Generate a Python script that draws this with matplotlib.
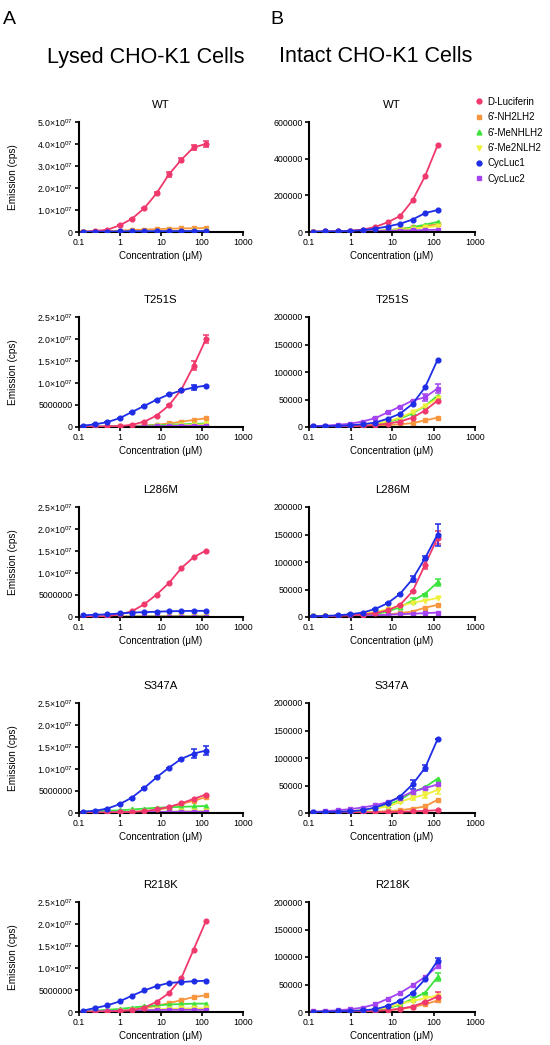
"""
Emission vs concentration in lysed / intact CHO-K1 cells
"""

import matplotlib
matplotlib.use("Agg")
import matplotlib.pyplot as plt
from matplotlib.lines import Line2D

plt.rcParams['font.family'] = ['Liberation Sans', 'DejaVu Sans']
plt.rcParams['mathtext.fontset'] = 'custom'
plt.rcParams['mathtext.rm'] = 'Liberation Sans'

# ===============================
# DATA
# ===============================

CONC = [0.122, 0.244, 0.488, 0.977, 1.95, 3.91, 7.81, 15.6, 31.25, 62.5, 125]
SUBSTRATES = ["D-Luciferin", "6'-NH2LH2", "6'-MeNHLH2", "6'-Me2NLH2", "CycLuc1", "CycLuc2"]
MUTANTS = ["WT", "T251S", "L286M", "S347A", "R218K"]

# lysed cells, values in units of 1e6 cps
LYSED_WT = {
    "D-Luciferin": [0.15, 0.5, 1.0, 3.0, 6.0, 10.8, 17.6, 26.2, 32.8, 38.5, 40.0],
    "6'-NH2LH2":   [0.1, 0.2, 0.4, 0.6, 0.9, 1.1, 1.3, 1.5, 1.6, 1.7, 1.8],
    "6'-MeNHLH2":  [0.05, 0.08, 0.1, 0.15, 0.2, 0.25, 0.3, 0.35, 0.4, 0.45, 0.5],
    "6'-Me2NLH2":  [0.05, 0.06, 0.08, 0.1, 0.12, 0.15, 0.18, 0.2, 0.22, 0.25, 0.3],
    "CycLuc1":     [0.1, 0.15, 0.2, 0.25, 0.3, 0.3, 0.35, 0.35, 0.4, 0.4, 0.4],
    "CycLuc2":     [0.05, 0.1, 0.1, 0.15, 0.15, 0.2, 0.2, 0.2, 0.2, 0.2, 0.2],
}
LYSED_T251S = {
    "D-Luciferin": [0.05, 0.08, 0.12, 0.2, 0.5, 1.2, 2.6, 4.9, 8.5, 13.9, 20.0],
    "6'-NH2LH2":   [0.05, 0.08, 0.1, 0.15, 0.25, 0.35, 0.5, 0.8, 1.2, 1.6, 2.0],
    "6'-MeNHLH2":  [0.05, 0.08, 0.1, 0.15, 0.2, 0.3, 0.4, 0.5, 0.6, 0.7, 0.8],
    "6'-Me2NLH2":  [0.02, 0.03, 0.05, 0.07, 0.1, 0.15, 0.2, 0.3, 0.4, 0.5, 0.6],
    "CycLuc1":     [0.3, 0.6, 1.1, 2.0, 3.4, 4.8, 6.2, 7.4, 8.3, 9.0, 9.4],
    "CycLuc2":     [0.05, 0.06, 0.08, 0.1, 0.12, 0.15, 0.2, 0.25, 0.3, 0.3, 0.3],
}
LYSED_L286M = {
    "D-Luciferin": [0.05, 0.1, 0.2, 0.6, 1.3, 2.9, 5.1, 7.7, 11.1, 13.6, 15.1],
    "6'-NH2LH2":   [0.03, 0.05, 0.07, 0.1, 0.12, 0.15, 0.18, 0.2, 0.22, 0.25, 0.3],
    "6'-MeNHLH2":  [0.02, 0.03, 0.05, 0.06, 0.08, 0.1, 0.12, 0.14, 0.16, 0.18, 0.2],
    "6'-Me2NLH2":  [0.02, 0.02, 0.03, 0.04, 0.05, 0.06, 0.08, 0.1, 0.12, 0.13, 0.15],
    "CycLuc1":     [0.4, 0.5, 0.6, 0.8, 1.0, 1.1, 1.2, 1.3, 1.35, 1.4, 1.4],
    "CycLuc2":     [0.02, 0.03, 0.04, 0.05, 0.06, 0.07, 0.08, 0.09, 0.1, 0.1, 0.1],
}
LYSED_S347A = {
    "D-Luciferin": [0.05, 0.07, 0.1, 0.15, 0.25, 0.4, 0.8, 1.4, 2.2, 3.2, 4.2],
    "6'-NH2LH2":   [0.05, 0.07, 0.1, 0.15, 0.25, 0.4, 0.7, 1.2, 2.0, 2.8, 3.6],
    "6'-MeNHLH2":  [0.3, 0.4, 0.5, 0.6, 0.8, 1.0, 1.2, 1.3, 1.4, 1.5, 1.6],
    "6'-Me2NLH2":  [0.05, 0.06, 0.08, 0.1, 0.15, 0.2, 0.25, 0.3, 0.35, 0.4, 0.45],
    "CycLuc1":     [0.3, 0.5, 1.0, 2.0, 3.5, 5.7, 8.1, 10.3, 12.3, 13.5, 14.2],
    "CycLuc2":     [0.1, 0.12, 0.15, 0.18, 0.2, 0.22, 0.25, 0.27, 0.3, 0.3, 0.3],
}
LYSED_R218K = {
    "D-Luciferin": [0.02, 0.05, 0.1, 0.2, 0.4, 1.0, 2.3, 4.3, 7.7, 14.2, 20.7],
    "6'-NH2LH2":   [0.1, 0.15, 0.2, 0.3, 0.5, 0.9, 1.4, 2.0, 2.7, 3.4, 3.8],
    "6'-MeNHLH2":  [0.2, 0.3, 0.5, 0.7, 1.0, 1.3, 1.5, 1.7, 1.8, 1.9, 1.9],
    "6'-Me2NLH2":  [0.1, 0.15, 0.2, 0.3, 0.4, 0.5, 0.6, 0.7, 0.8, 0.8, 0.8],
    "CycLuc1":     [0.3, 0.9, 1.5, 2.4, 3.7, 4.9, 5.9, 6.6, 6.8, 7.0, 7.1],
    "CycLuc2":     [0.1, 0.15, 0.2, 0.3, 0.35, 0.4, 0.45, 0.5, 0.5, 0.5, 0.5],
}

# intact cells, values in cps
INTACT_WT = {
    "D-Luciferin": [2000, 3000, 4500, 7000, 13000, 27000, 53000, 87000, 172000, 305000, 472000],
    "6'-NH2LH2":   [500, 800, 1200, 2000, 3500, 6000, 10000, 16000, 25000, 34000, 42000],
    "6'-MeNHLH2":  [500, 800, 1200, 2000, 3000, 5000, 9000, 15000, 26000, 40000, 55000],
    "6'-Me2NLH2":  [500, 700, 1000, 1500, 2500, 4000, 7000, 12000, 18000, 25000, 32000],
    "CycLuc1":     [2000, 3000, 4000, 6000, 10000, 18000, 30000, 45000, 68000, 103000, 120000],
    "CycLuc2":     [1000, 1500, 2000, 3000, 4000, 5000, 6000, 8000, 9000, 11000, 12000],
}
INTACT_T251S = {
    "D-Luciferin": [300, 500, 800, 1200, 2000, 3500, 6000, 10000, 17000, 30000, 48000],
    "6'-NH2LH2":   [200, 300, 500, 800, 1200, 2000, 3500, 5000, 7000, 12000, 17000],
    "6'-MeNHLH2":  [500, 800, 1200, 2000, 3000, 5000, 9000, 15000, 25000, 38000, 57000],
    "6'-Me2NLH2":  [500, 800, 1200, 2000, 3500, 6000, 10000, 17000, 27000, 38000, 52000],
    "CycLuc1":     [1000, 1500, 2000, 3000, 5000, 8000, 15000, 24000, 42000, 72000, 122000],
    "CycLuc2":     [1500, 2500, 4000, 6000, 10000, 16000, 26500, 37000, 48000, 54000, 70000],
}
INTACT_L286M = {
    "D-Luciferin": [800, 1200, 2000, 3000, 4500, 7000, 12000, 22000, 46500, 95000, 144000],
    "6'-NH2LH2":   [300, 500, 800, 1200, 2000, 3000, 4500, 7000, 10000, 17000, 22000],
    "6'-MeNHLH2":  [500, 800, 1200, 2000, 3000, 5000, 10000, 18000, 30000, 42000, 63000],
    "6'-Me2NLH2":  [1000, 1500, 2500, 4000, 6000, 9000, 14000, 20000, 26000, 30000, 34500],
    "CycLuc1":     [1500, 2000, 3000, 5000, 8000, 14500, 25000, 42000, 69000, 107000, 150000],
    "CycLuc2":     [500, 700, 1000, 1500, 2000, 3000, 4000, 5000, 6000, 7000, 8000],
}
INTACT_S347A = {
    "D-Luciferin": [200, 300, 400, 600, 800, 1000, 1500, 2000, 3000, 4000, 5000],
    "6'-NH2LH2":   [300, 500, 700, 1000, 1500, 2000, 3500, 5000, 8000, 12000, 24000],
    "6'-MeNHLH2":  [800, 1200, 2000, 3000, 5000, 8000, 14000, 24000, 38000, 47000, 62500],
    "6'-Me2NLH2":  [800, 1200, 2000, 3000, 5000, 8000, 12000, 20000, 28000, 33000, 42000],
    "CycLuc1":     [1000, 1500, 2000, 3000, 5000, 10000, 18000, 30000, 52000, 82000, 134000],
    "CycLuc2":     [2000, 3000, 5000, 7000, 10000, 14000, 20000, 28000, 39000, 45000, 52000],
}
INTACT_R218K = {
    "D-Luciferin": [200, 300, 500, 800, 1200, 2000, 3500, 6000, 10000, 18000, 28000],
    "6'-NH2LH2":   [200, 300, 500, 700, 1000, 1800, 3000, 5000, 9000, 14000, 21000],
    "6'-MeNHLH2":  [300, 500, 800, 1200, 2000, 3500, 7000, 13000, 24000, 35000, 63600],
    "6'-Me2NLH2":  [500, 800, 1200, 2000, 3000, 5000, 8000, 15000, 20000, 25000, 30000],
    "CycLuc1":     [500, 800, 1200, 2000, 3000, 5000, 11000, 20000, 34500, 59500, 93000],
    "CycLuc2":     [1000, 2000, 3000, 5000, 8000, 14000, 24000, 34500, 48500, 63600, 83000],
}

# error bars (only the visible ones), same units as the panel
LYSED_ERR = {
    "WT": {"D-Luciferin": [0, 0, 0, 0, 0, 0, 0.5, 1.0, 1.0, 1.2, 1.2]},
    "T251S": {"D-Luciferin": [0, 0, 0, 0, 0, 0, 0, 0, 0, 1.0, 1.0],
              "CycLuc1": [0, 0, 0, 0, 0, 0, 0, 0, 0, 0.5, 0]},
    "S347A": {"CycLuc1": [0, 0, 0, 0, 0, 0, 0, 0, 0, 1.0, 1.0]},
}
INTACT_ERR = {
    "T251S": {"CycLuc2": [0, 0, 0, 0, 0, 0, 0, 0, 0, 6000, 8000]},
    "L286M": {"CycLuc1": [0, 0, 0, 0, 0, 0, 0, 0, 6000, 4000, 20000],
              "D-Luciferin": [0, 0, 0, 0, 0, 0, 0, 0, 0, 8000, 12000],
              "6'-MeNHLH2": [0, 0, 0, 0, 0, 0, 0, 0, 5000, 0, 7000]},
    "S347A": {"CycLuc1": [0, 0, 0, 0, 0, 0, 0, 0, 8000, 5000, 0],
              "6'-Me2NLH2": [0, 0, 0, 0, 0, 0, 0, 0, 5000, 5000, 8000]},
    "R218K": {"CycLuc1": [0, 0, 0, 0, 0, 0, 0, 0, 0, 0, 5000],
              "6'-MeNHLH2": [0, 0, 0, 0, 0, 0, 0, 0, 3000, 0, 7000],
              "D-Luciferin": [0, 0, 0, 0, 0, 0, 0, 0, 0, 0, 9000]},
}

LYSED = [LYSED_WT, LYSED_T251S, LYSED_L286M, LYSED_S347A, LYSED_R218K]
INTACT = [INTACT_WT, INTACT_T251S, INTACT_L286M, INTACT_S347A, INTACT_R218K]

COLORS = ["#F0386C", "#F7963E", "#3DE33D", "#F0F03C", "#1E2DE6", "#A444F0"]
MARKERS = ["o", "s", "^", "v", "o", "s"]

# ===============================
# LAYOUT (pixel positions of the axes)
# ===============================

W, H = 550, 1045
ROW_TOPS = [122, 317, 507, 703, 902]
AX_H = 110
COL_X = [(79, 164), (309, 166)]


def sci_label(v):
    if v == 0:
        return "0"
    if v == 5e6:
        return "5000000"
    return "%.1f×10$^{07}$" % (v / 1e7)


def draw_panel(ax, data, errs, scale):
    for name, col, mk in zip(SUBSTRATES, COLORS, MARKERS):
        y = [v * scale for v in data[name]]
        ax.plot(CONC, y, color=col, lw=1.3, marker=mk, ms=3.4, mec=col,
                zorder=3 if name in ("D-Luciferin", "CycLuc1") else 2)
        if name in errs:
            e = [v * scale for v in errs[name]]
            ax.errorbar(CONC, y, yerr=e, fmt="none", ecolor=col, elinewidth=1.1,
                        capsize=2.2, capthick=1.1)
    ax.set_xscale("log")
    ax.set_xlim(0.1, 1000)
    ax.set_xticks([0.1, 1, 10, 100, 1000])
    ax.set_xticklabels(["0.1", "1", "10", "100", "1000"])
    ax.xaxis.set_minor_locator(plt.NullLocator())
    for s in ("top", "right"):
        ax.spines[s].set_visible(False)
    for s in ("left", "bottom"):
        ax.spines[s].set_linewidth(1.5)
    ax.tick_params(direction="out", length=3, width=1.2, labelsize=6.3, pad=1.5)
    ax.set_xlabel("Concentration (μM)", fontsize=7, labelpad=3)


fig = plt.figure(figsize=(W / 100, H / 100), dpi=100)

for r, mut in enumerate(MUTANTS):
    for c in range(2):
        x0, w = COL_X[c]
        top = ROW_TOPS[r]
        ax = fig.add_axes([x0 / W, 1 - (top + AX_H) / H, w / W, AX_H / H])
        if c == 0:
            draw_panel(ax, LYSED[r], LYSED_ERR.get(mut, {}), 1e6)
            ymax = 5e7 if mut == "WT" else 2.5e7
            step = 1e7 if mut == "WT" else 5e6
            ticks = [i * step for i in range(int(round(ymax / step)) + 1)]
            ax.set_ylim(0, ymax)
            ax.set_yticks(ticks)
            ax.set_yticklabels([sci_label(t) for t in ticks])
            ax.set_ylabel("Emission (cps)", fontsize=7.2)
            ax.yaxis.set_label_coords(-0.37, 0.5)
        else:
            draw_panel(ax, INTACT[r], INTACT_ERR.get(mut, {}), 1)
            ymax = 600000 if mut == "WT" else 200000
            step = 200000 if mut == "WT" else 50000
            ticks = [i * step for i in range(int(round(ymax / step)) + 1)]
            ax.set_ylim(0, ymax)
            ax.set_yticks(ticks)
            ax.set_yticklabels([str(t) for t in ticks])
            if mut == "WT":
                handles = [Line2D([], [], ls="none", marker=m, color=cl, ms=3.5)
                           for m, cl in zip(MARKERS, COLORS)]
                ax.legend(handles, SUBSTRATES, loc="upper left",
                          bbox_to_anchor=(470 / W, 1 - 93 / H),
                          bbox_transform=fig.transFigure, frameon=False,
                          fontsize=7, handlelength=1.0, handletextpad=0.4,
                          labelspacing=0.55, borderaxespad=0)
        ax.set_title(mut, fontsize=8.2, pad=10)

fig.text(3 / W, 1 - 20 / H, "A", fontsize=14, va="center", ha="left")
fig.text(270 / W, 1 - 20 / H, "B", fontsize=14, va="center", ha="left")
fig.text(146 / W, 1 - 57 / H, "Lysed CHO-K1 Cells", fontsize=15.5, va="center", ha="center")
fig.text(376 / W, 1 - 57 / H, "Intact CHO-K1 Cells", fontsize=15.5, va="center", ha="center")

fig.savefig("out.png", dpi=100)
